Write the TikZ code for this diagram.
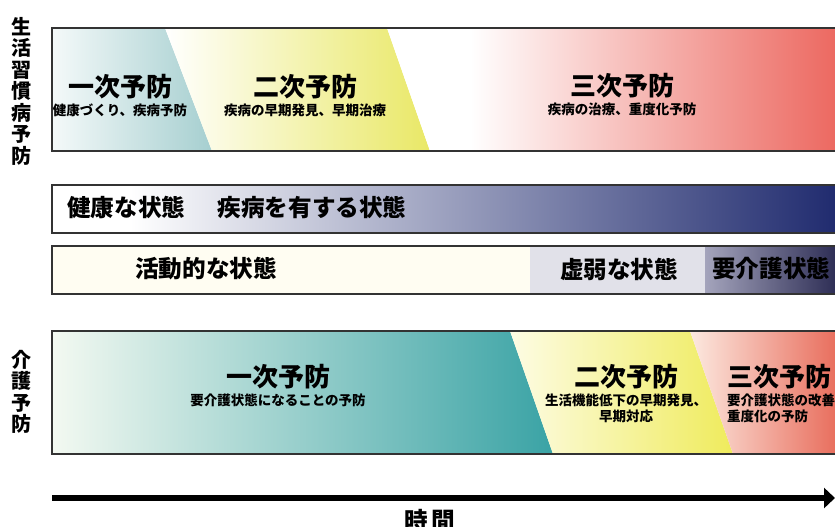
\documentclass[tikz,border=0pt]{standalone}
\usepackage{fontspec}
\setmainfont{Noto Sans CJK JP}
\usetikzlibrary{positioning,arrows.meta}

\definecolor{framegray}{HTML}{333333}
\definecolor{tealA}{HTML}{F4F9F9}
\definecolor{tealB}{HTML}{A6CFD0}
\definecolor{yelB}{HTML}{E9E866}
\definecolor{redM}{HTML}{F6C8C8}
\definecolor{redB}{HTML}{EC675F}
\definecolor{navyM}{HTML}{8A90B6}
\definecolor{navyB}{HTML}{1F2A6E}
\definecolor{cream}{HTML}{FFFDF2}
\definecolor{frail}{HTML}{E1E1E9}
\definecolor{careA}{HTML}{A4A4BC}
\definecolor{careB}{HTML}{2A2A52}
\definecolor{kgA}{HTML}{F3F9F1}
\definecolor{kgB}{HTML}{3AA3A5}
\definecolor{kyA}{HTML}{FDFCE4}
\definecolor{kyB}{HTML}{EFEB5C}
\definecolor{krA}{HTML}{FCE9E0}
\definecolor{krB}{HTML}{E86B5A}

\begin{document}
\begin{tikzpicture}[
  x=1pt,y=-1pt,
  frame/.style={draw=framegray,line width=1.2pt},
  title/.style={font=\bfseries\fontsize{26}{26}\selectfont,inner sep=0pt},
  sub/.style={font=\bfseries\fontsize{13.5}{16}\selectfont,inner sep=0pt,align=center},
  state/.style={font=\bfseries\fontsize{23.6}{23.6}\selectfont,inner sep=0pt},
  side/.style={font=\bfseries\fontsize{20}{21.5}\selectfont,inner sep=0pt,align=center},
  timearrow/.style={line width=6pt,-{Triangle[length=11pt,width=20pt]}}
]
  \useasboundingbox (0,0) rectangle (835,527);
  \clip (0,0) rectangle (835,527);

  % Lifestyle disease prevention
  \shade[left color=tealA,right color=tealB] (52,28) -- (165,28) -- (212,151) -- (52,151) -- cycle;
  \shade[left color=white,right color=yelB] (165,28) -- (387,28) -- (430,151) -- (212,151) -- cycle;
  \fill[white] (387,28) -- (470,28) -- (470,151) -- (430,151) -- cycle;
  \shade[left color=white,middle color=redM,right color=redB] (470,28) rectangle (840,151);
  \draw[frame] (52,28) rectangle (840,151);

  \node [side] (ls) at (22,91) {生\\活\\習\\慣\\病\\予\\防};
  \node [title] (p1) at (120,87) {一次予防};
  \node [sub,below=4pt of p1] (p1s) {健康づくり、疾病予防};
  \node [title] (p2) at (305,87) {二次予防};
  \node [sub,below=4pt of p2] (p2s) {疾病の早期発見、早期治療};
  \node [title] (p3) at (622,86) {三次予防};
  \node [sub,below=4pt of p3] (p3s) {疾病の治療、重度化予防};

  % Health states
  \fill[white] (52,185) rectangle (130,233);
  \shade[left color=white,middle color=navyM,right color=navyB] (130,185) rectangle (840,233);
  \draw[frame] (52,185) rectangle (840,233);
  \node [state,anchor=west] (hs) at (67,208) {健康な状態　\hspace{9pt}疾病を有する状態};

  \fill[cream] (52,246) rectangle (530,294);
  \fill[frail] (530,246) rectangle (705,294);
  \shade[left color=careA,right color=careB] (705,246) rectangle (840,294);
  \draw[frame] (52,246) rectangle (840,294);
  \node [state] (act) at (206,269) {活動的な状態};
  \node [state] (weak) at (619,269) {虚弱な状態};
  \node [state,anchor=west] (care) at (712,269) {要介護状態};

  % Long-term care prevention
  \shade[left color=kgA,right color=kgB] (52,331) -- (510,331) -- (553,454) -- (52,454) -- cycle;
  \shade[left color=kyA,right color=kyB] (510,331) -- (690,331) -- (733,454) -- (553,454) -- cycle;
  \shade[left color=krA,right color=krB] (690,331) -- (840,331) -- (840,454) -- (733,454) -- cycle;
  \draw[frame] (52,331) rectangle (840,454);

  \node [side] (lc) at (22,392) {介\\護\\予\\防};
  \node [title] (c1) at (278,377) {一次予防};
  \node [sub,below=4pt of c1] (c1s) {要介護状態になることの予防};
  \node [title] (c2) at (626,377) {二次予防};
  \node [sub,below=4pt of c2] (c2s) {生活機能低下の早期発見、\\早期対応};
  \node [title,anchor=west] (c3) at (727,377) {三次予防};
  \node [sub,align=left,anchor=north west] (c3s) at (727,394) {要介護状態の改善、\\重度化の予防};

  % Time axis
  \coordinate (t0) at (52,498);
  \coordinate (t1) at (835,498);
  \draw[timearrow] (t0) -- (t1);
  \node [state] (time) at (430,521) {時\,間};
\end{tikzpicture}
\end{document}
